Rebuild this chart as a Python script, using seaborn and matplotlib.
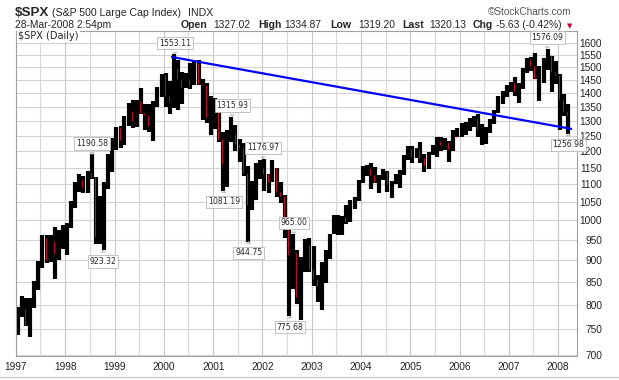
import pandas as pd
import seaborn as sns
import matplotlib.pyplot as plt
from matplotlib.lines import Line2D
from matplotlib.ticker import NullLocator, NullFormatter

# monthly bars, Jan 1997 .. Mar 2008 (high / low / close)
months = pd.date_range('1997-01-01', '2008-03-01', freq='MS')

highs = [
    794.7, 817.7, 814.9, 812.9, 851.9, 898.7, 961.0, 961.6, 960.6, 983.1, 973.6, 986.3,
    992.7, 1051.0, 1105.7, 1130.5, 1123.9, 1138.5, 1190.6, 1121.0, 1066.1, 1107.0, 1192.7, 1244.9,
    1280.0, 1283.7, 1316.6, 1364.0, 1375.0, 1375.0, 1420.3, 1360.6, 1361.6, 1373.2, 1424.0, 1473.1,
    1478.0, 1444.6, 1553.1, 1527.2, 1481.5, 1479.0, 1517.3, 1525.2, 1530.1, 1454.8, 1438.5, 1389.1,
    1383.4, 1376.4, 1263.5, 1269.3, 1315.9, 1286.6, 1239.8, 1226.3, 1155.4, 1110.6, 1163.4, 1173.6,
    1177.0, 1130.2, 1173.0, 1147.8, 1106.6, 1070.3, 994.5, 965.0, 924.0, 907.4, 951.6, 954.3,
    935.1, 864.6, 895.9, 924.2, 965.4, 1015.3, 1015.4, 1011.0, 1040.0, 1053.8, 1063.4, 1112.6,
    1155.4, 1158.9, 1163.2, 1150.6, 1127.7, 1146.3, 1140.8, 1109.7, 1131.5, 1142.1, 1188.5, 1217.9,
    1217.8, 1212.4, 1229.1, 1191.9, 1199.6, 1219.6, 1245.2, 1245.9, 1243.1, 1233.3, 1270.6, 1275.8,
    1294.9, 1297.6, 1310.9, 1318.2, 1326.7, 1290.7, 1280.4, 1306.7, 1340.3, 1389.4, 1407.9, 1431.8,
    1441.6, 1461.6, 1438.9, 1498.0, 1535.6, 1540.6, 1555.9, 1503.9, 1538.7, 1576.1, 1545.8, 1523.6,
    1471.8, 1396.0, 1359.7,
]
lows = [
    737.0, 773.4, 756.1, 733.5, 793.2, 832.0, 880.5, 893.4, 896.5, 855.3, 901.2, 927.4,
    912.8, 979.4, 1032.1, 1076.7, 1074.7, 1074.0, 1114.3, 939.0, 939.9, 923.3, 1086.0, 1136.9,
    1205.5, 1211.9, 1222.1, 1282.7, 1277.0, 1281.4, 1325.9, 1268.7, 1263.4, 1233.7, 1348.8, 1387.4,
    1350.1, 1325.1, 1346.6, 1339.4, 1361.1, 1420.6, 1415.6, 1429.9, 1431.3, 1305.8, 1294.9, 1254.1,
    1274.6, 1228.8, 1081.2, 1092.0, 1232.0, 1203.0, 1165.5, 1124.9, 944.8, 1026.8, 1054.3, 1114.9,
    1081.7, 1074.4, 1106.7, 1063.5, 1048.0, 952.9, 775.7, 833.4, 800.2, 768.6, 872.1, 871.8,
    840.3, 806.3, 788.9, 847.9, 902.8, 963.6, 962.1, 960.8, 990.4, 995.9, 1031.2, 1053.4,
    1105.1, 1124.4, 1087.2, 1105.0, 1076.3, 1113.3, 1078.8, 1060.7, 1101.3, 1090.2, 1127.6, 1173.8,
    1163.8, 1180.1, 1163.7, 1136.2, 1146.2, 1188.3, 1183.6, 1201.1, 1205.4, 1168.2, 1201.1, 1246.6,
    1245.7, 1253.6, 1268.4, 1280.7, 1245.3, 1219.3, 1224.5, 1261.3, 1290.9, 1327.1, 1360.9, 1385.9,
    1404.0, 1389.4, 1364.0, 1416.4, 1476.7, 1484.2, 1454.3, 1370.6, 1439.3, 1489.6, 1406.1, 1435.7,
    1270.1, 1316.8, 1257.0,
]
closes = [
    786.2, 790.8, 757.1, 801.3, 848.3, 885.1, 954.3, 899.5, 947.3, 914.6, 955.4, 970.4,
    980.3, 1049.3, 1101.8, 1111.8, 1090.8, 1133.8, 1120.7, 957.3, 1017.0, 1098.7, 1163.6, 1229.2,
    1279.6, 1238.3, 1286.4, 1335.2, 1301.8, 1372.7, 1328.7, 1320.4, 1282.7, 1362.9, 1388.9, 1469.3,
    1394.5, 1366.4, 1498.6, 1452.4, 1420.6, 1454.6, 1430.8, 1517.7, 1436.5, 1429.4, 1315.0, 1320.3,
    1366.0, 1239.9, 1160.3, 1249.5, 1255.8, 1224.4, 1211.2, 1133.6, 1040.9, 1059.8, 1139.5, 1148.1,
    1130.2, 1106.7, 1147.4, 1076.9, 1067.1, 989.8, 911.6, 916.1, 815.3, 885.8, 936.3, 879.8,
    855.7, 841.2, 848.2, 916.9, 963.6, 974.5, 990.3, 1008.0, 996.0, 1050.7, 1058.2, 1111.9,
    1131.1, 1144.9, 1126.2, 1107.3, 1120.7, 1140.8, 1101.7, 1104.2, 1114.6, 1130.2, 1173.8, 1211.9,
    1181.3, 1203.6, 1180.6, 1156.9, 1191.5, 1191.3, 1234.2, 1220.3, 1228.8, 1207.0, 1249.5, 1248.3,
    1280.1, 1280.7, 1294.9, 1310.6, 1270.1, 1270.2, 1276.7, 1303.8, 1335.9, 1377.9, 1400.6, 1418.3,
    1438.2, 1406.8, 1420.9, 1482.4, 1530.6, 1503.4, 1455.3, 1474.0, 1526.8, 1549.4, 1481.1, 1468.4,
    1378.6, 1330.6, 1320.1,
]

# labelled turning points
peak_dates = ['1998-07-17', '1998-10-08', '2000-03-24', '2001-03-22', '2001-05-22',
              '2001-09-21', '2002-01-04', '2002-07-24', '2002-08-22', '2007-10-11', '2008-03-17']
peak_values = [1190.58, 923.32, 1553.11, 1081.19, 1315.93,
               944.75, 1176.97, 775.68, 965.00, 1576.09, 1256.98]
peak_side = ['high', 'low', 'high', 'low', 'high',
             'low', 'high', 'low', 'high', 'high', 'low']

# trend line end points
trend_dates = ['2000-03-01', '2008-04-06']
trend_values = [1541, 1274]

years = list(range(1997, 2009))
price_ticks = list(range(700, 1601, 50))

sns.set_style('white')
plt.rcParams['font.family'] = ['Liberation Sans', 'DejaVu Sans']

W, H = 619, 380
fig = plt.figure(figsize=(W / 100, H / 100), dpi=100)
ax = fig.add_axes([16 / W, 1 - 356 / H, (577 - 16) / W, (356 - 31) / H])

# grid first
for y in price_ticks:
    ax.axhline(y, color='#d4d4d4', lw=0.8, zorder=0)
for yr in years:
    ax.axvline(pd.Timestamp(f'{yr}-01-01'), color='#c8c8c8', lw=0.8, zorder=0)
    ax.axvline(pd.Timestamp(f'{yr}-07-01'), color='#d8d8d8', lw=0.8, zorder=0)

# price bars
mid = months + pd.Timedelta(days=14)
ax.vlines(mid, lows, highs, color='black', lw=3.0, zorder=2)
prev = [closes[0]] + closes[:-1]
down = [i for i in range(len(closes)) if closes[i] < prev[i]]
ax.vlines(months[down] + pd.Timedelta(days=7), [closes[i] for i in down],
          [prev[i] for i in down], color='#e0103c', lw=0.6, zorder=3)

# trend line
trend = pd.DataFrame({'date': pd.to_datetime(trend_dates), 'value': trend_values})
sns.lineplot(data=trend, x='date', y='value', color='#0000ff', lw=1.6, ax=ax, zorder=4)

ax.set_yscale('log')
ax.set_ylim(698, 1651)
ax.set_xlim(pd.Timestamp('1997-01-01'), pd.Timestamp('2008-05-19'))
ax.yaxis.set_minor_locator(NullLocator())
ax.yaxis.set_minor_formatter(NullFormatter())
ax.set_yticks(price_ticks)
ax.set_yticklabels([str(p) for p in price_ticks])
ax.set_xticks([pd.Timestamp(f'{yr}-01-01') for yr in years])
ax.set_xticklabels([str(yr) for yr in years])
ax.yaxis.tick_right()
ax.tick_params(axis='y', length=0, pad=18, labelsize=7.3, colors='#222222')
ax.tick_params(axis='x', length=0, pad=4, labelsize=7.3, colors='#222222')
for lbl in ax.get_yticklabels():
    lbl.set_horizontalalignment('right')
ax.set_xlabel('')
ax.set_ylabel('')
for side, sp in ax.spines.items():
    sp.set_color('#a0a0a0')
    sp.set_linewidth(0.8)

# turning point labels
for d, v, s in zip(peak_dates, peak_values, peak_side):
    off = 11 if s == 'high' else -11
    ax.annotate(f'{v:.2f}', xy=(pd.Timestamp(d), v), xytext=(0, off),
                textcoords='offset pixels', ha='center', va='center',
                fontsize=5.6, family='DejaVu Sans', zorder=6, annotation_clip=False,
                bbox=dict(boxstyle='square,pad=0.22', fc='white', ec='#b8b8b8', lw=0.6),
                arrowprops=dict(arrowstyle='wedge,tail_width=0.5,shrink_factor=0.5',
                                fc='white', ec='#b8b8b8', lw=0.6, shrinkB=0))

ax.text(2 / 561, 1 - 5 / 325, r'\$SPX (Daily)', transform=ax.transAxes, ha='left', va='center',
        fontsize=7, family='DejaVu Sans', zorder=7,
        bbox=dict(boxstyle='square,pad=0.15', fc='white', ec='none'))

# header
def px(x, y):
    return x / W, 1 - y / H

fig.text(*px(15, 16), r'\$SPX', fontsize=9.6, fontweight='bold', va='baseline')
fig.text(*px(52, 16), '(S&P 500 Large Cap Index)', fontsize=7.6, va='baseline')
fig.text(*px(188, 16), 'INDX', fontsize=7.6, va='baseline')
fig.text(*px(571, 15), '\u00a9StockCharts.com', fontsize=7.2, color='#555555', ha='right', va='baseline')
fig.text(*px(15, 28), '28-Mar-2008 2:54pm', fontsize=7.4, va='baseline')
header2 = [(180.6, 'Open', 'bold'), (213, '1327.02', 'normal'), (258, 'High', 'bold'),
           (284.6, '1334.87', 'normal'), (330, 'Low', 'bold'), (358, '1319.20', 'normal'),
           (402, 'Last', 'bold'), (429, '1320.13', 'normal'), (473, 'Chg', 'bold'),
           (496, '-5.63 (-0.42%)', 'normal')]
for x, s, w in header2:
    fig.text(*px(x, 28), s, fontsize=7.6 if w == 'bold' else 7.4, fontweight=w, va='baseline')
fig.text(*px(567, 28), '\u25bc', fontsize=5, color='#cc0033', va='baseline', family='DejaVu Sans')

fig.add_artist(Line2D([0, 1], [1 - 377 / H] * 2, color='#c8c8c8', lw=1, transform=fig.transFigure))

fig.savefig('out.png', dpi=100)
